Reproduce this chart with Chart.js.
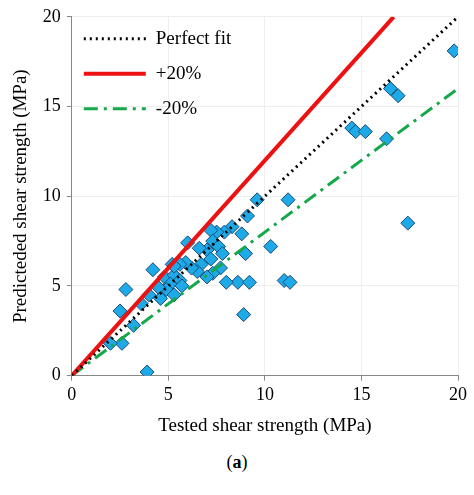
<!DOCTYPE html><html><head><script src="https://cdn.jsdelivr.net/npm/chart.js"></script>
<style>body{margin:0;background:#fff}#w{width:474px;height:495px;position:relative}#lab{position:absolute;left:0;width:474px;top:452px;text-align:center;font:18px "Liberation Serif"}</style></head><body><div id="w"><canvas id="c" width="474" height="445"></canvas><div id="lab">(<b>a</b>)</div></div>
<script>
const testedX=[19.8,16.5,16.9,16.3,17.4,14.5,14.7,15.2,11.2,10.3,11.0,11.3,9.6,9.1,8.9,8.6,9.2,9.0,8.8,8.3,7.9,7.5,7.2,7.3,7.6,7.0,6.6,6.0,6.7,7.2,7.8,7.7,7.3,7.0,8.0,6.5,6.2,5.9,5.6,5.2,4.8,5.3,5.6,5.1,4.9,5.3,5.7,4.2,4.5,4.0,4.6,3.6,3.2,2.8,2.5,2.6,2.0,3.9,5.3];
const predictedY=[18.1,16.0,15.6,13.2,8.5,13.8,13.6,13.6,9.8,7.2,5.3,5.2,9.8,8.9,3.4,5.2,5.2,6.8,7.9,8.3,8.0,8.0,8.1,7.5,7.2,7.0,7.1,7.4,6.2,6.5,6.8,6.0,5.7,5.5,5.2,5.8,6.0,6.3,6.2,6.2,5.5,5.6,5.3,5.1,4.8,4.5,5.0,5.9,4.9,4.5,4.3,4.0,2.8,4.8,3.6,1.8,1.8,0.2,6.1];
const fitLine=[[0,0],[20,20]], plusLine=[[0,0],[16.67,20]], minusLine=[[0,0],[20,16]];
const ticks=[0,5,10,15,20];
const pts=a=>a.map(p=>({x:p[0],y:p[1]}));
const legendPlugin={id:'leg',afterDraw(ch){const c=ch.ctx,a=ch.chartArea;c.save();
ch.data.datasets.slice(0,3).forEach((d,i)=>{const y=a.top+22+i*35,x0=a.left+12;
c.beginPath();c.strokeStyle=d.borderColor;c.lineWidth=d.borderWidth;c.setLineDash(d.borderDash||[]);c.moveTo(x0,y);c.lineTo(x0+62,y);c.stroke();
c.setLineDash([]);c.fillStyle='#000';c.font='19px "Liberation Serif"';c.textBaseline='middle';c.fillText(d.label,x0+72,y);});c.restore();}};
new Chart(document.getElementById('c'),{type:'scatter',data:{datasets:[
{label:'Perfect fit',data:pts(fitLine),showLine:true,borderColor:'#000',borderDash:[2,4],borderWidth:3,pointRadius:0},
{label:'+20%',data:pts(plusLine),showLine:true,borderColor:'#ee1111',borderWidth:4,pointRadius:0},
{label:'-20%',data:pts(minusLine),showLine:true,borderColor:'#14a84a',borderDash:[14,6,3,6],borderWidth:3,pointRadius:0},
{label:'data',data:testedX.map((x,i)=>({x,y:predictedY[i]})),pointStyle:'rectRot',pointRadius:7,backgroundColor:'#1eaae7',borderColor:'#1a4a7a',borderWidth:1}
]},options:{animation:false,responsive:false,layout:{padding:{right:16,top:10,left:6,bottom:4}},
plugins:{legend:{display:false},tooltip:{enabled:false}},
scales:{x:{min:0,max:20,afterBuildTicks:a=>{a.ticks=ticks.map(v=>({value:v}))},grid:{color:'#eee',tickLength:5,tickColor:'#888'},border:{color:'#888'},ticks:{font:{family:'Liberation Serif',size:18},color:'#000',padding:4},title:{display:true,text:'Tested shear strength (MPa)',font:{family:'Liberation Serif',size:19},color:'#000'}},
y:{min:0,max:20,afterBuildTicks:a=>{a.ticks=ticks.map(v=>({value:v}))},grid:{color:'#eee',tickLength:5,tickColor:'#888'},border:{color:'#888'},ticks:{font:{family:'Liberation Serif',size:18},color:'#000',padding:6},title:{display:true,text:'Predicteded shear strength (MPa)',font:{family:'Liberation Serif',size:19},color:'#000'}}}},
plugins:[legendPlugin]});
</script></body></html>
